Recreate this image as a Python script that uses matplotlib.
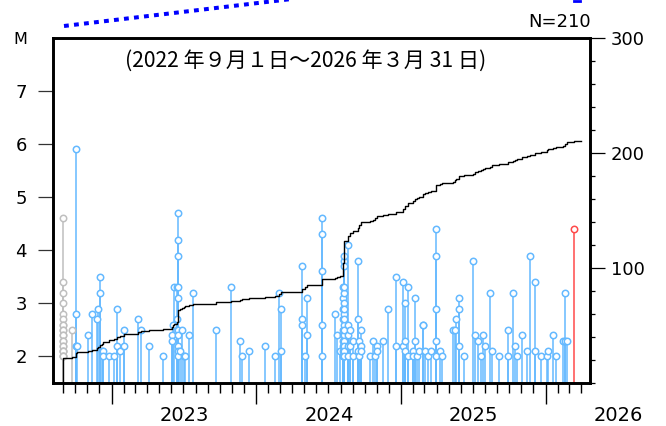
import datetime as dt
import numpy as np
import matplotlib
matplotlib.use("Agg")
import matplotlib.pyplot as plt
import matplotlib.dates as mdates
import matplotlib.ticker as mticker
import matplotlib.transforms as mtrans
from matplotlib.lines import Line2D

# hypocentre list: (date, magnitudes on that day)
ev_gray = [
	("2022-09-01", [4.6, 3.4, 3.2, 3.0, 2.8, 2.7, 2.6, 2.6, 2.5, 2.5, 2.4,
	                2.4, 2.3, 2.3, 2.2, 2.2, 2.1, 2.1, 2.1, 2.0, 2.0, 2.0]),
	("2022-09-24", [2.5]),
]
ev_2022 = [
	("2022-10-02", [5.9, 2.8, 2.2]), ("2022-10-06", [2.2]),
	("2022-11-03", [2.4]), ("2022-11-12", [2.8]), ("2022-11-26", [2.7]),
	("2022-11-28", [2.9]), ("2022-12-03", [3.5, 3.2]), ("2022-12-07", [2.1]),
	("2022-12-11", [2.1, 2.0]), ("2022-12-26", [2.0]),
]
ev_2023 = [
	("2023-01-06", [2.0]), ("2023-01-15", [2.9, 2.2]), ("2023-01-21", [2.1]),
	("2023-02-01", [2.5, 2.2]), ("2023-03-09", [2.7]), ("2023-03-15", [2.5]),
	("2023-04-06", [2.2]), ("2023-05-10", [2.0]),
	("2023-06-02", [2.4, 2.3]), ("2023-06-06", [2.6]), ("2023-06-08", [3.3]),
	("2023-06-14", [3.3, 2.7]),
	("2023-06-18", [4.7, 4.2, 3.9, 3.3, 3.1, 2.5, 2.4, 2.2, 2.1, 2.0]),
	("2023-06-22", [2.1]), ("2023-06-28", [2.5]), ("2023-07-02", [2.0]),
	("2023-07-06", [2.0]), ("2023-07-16", [2.4]), ("2023-07-25", [3.2]),
	("2023-09-21", [2.5]), ("2023-10-29", [3.3]), ("2023-11-21", [2.3]),
	("2023-11-26", [2.0]), ("2023-12-14", [2.1]),
]
ev_2024 = [
	("2024-01-24", [2.2]), ("2024-02-18", [2.0]), ("2024-02-28", [3.2]),
	("2024-03-03", [2.9, 2.1]), ("2024-04-26", [3.7, 2.7, 2.6]),
	("2024-05-04", [2.0]), ("2024-05-08", [3.1, 2.4]),
	("2024-06-15", [4.6, 4.3, 3.6, 2.6, 2.0]),
	("2024-07-18", [2.8]), ("2024-07-23", [2.4]), ("2024-07-31", [2.1]),
	("2024-08-07", [2.5, 2.3, 2.1]),
	("2024-08-08", [3.3, 3.1, 2.9, 2.7, 2.4, 2.2, 2.0, 2.0]),
	("2024-08-09", [3.8, 3.7, 3.2, 3.0, 2.8, 2.6, 2.4, 2.3, 2.1, 2.0, 2.0]),
	("2024-08-10", [3.9, 3.3, 2.9, 2.7, 2.5, 2.2, 2.1, 2.0]),
	("2024-08-21", [4.1, 2.6, 2.4, 2.2, 2.0]), ("2024-08-25", [2.5, 2.2]),
	("2024-09-02", [2.3, 2.0]), ("2024-09-13", [3.8, 2.7, 2.1]),
	("2024-09-17", [2.3, 2.0]), ("2024-09-21", [2.2, 2.1]), ("2024-09-23", [2.5]),
	("2024-10-15", [2.0]), ("2024-10-21", [2.3]), ("2024-10-28", [2.0]),
	("2024-10-31", [2.2, 2.1]), ("2024-11-17", [2.3]), ("2024-11-30", [2.9]),
	("2024-12-19", [3.5, 2.2]),
]
ev_2025 = [
	("2025-01-05", [3.4, 2.2]), ("2025-01-12", [3.0, 2.3, 2.1]),
	("2025-01-18", [3.3, 2.0]), ("2025-01-30", [2.1, 2.0]),
	("2025-02-05", [3.1, 2.3]), ("2025-02-10", [2.0]), ("2025-02-14", [2.1]),
	("2025-02-25", [2.6, 2.6]), ("2025-03-03", [2.1]), ("2025-03-11", [2.0]),
	("2025-03-18", [2.1]), ("2025-03-30", [4.4, 3.9, 2.9, 2.3, 2.0]),
	("2025-04-09", [2.1]), ("2025-04-15", [2.0]), ("2025-05-13", [2.5]),
	("2025-05-18", [2.5]), ("2025-05-20", [2.7]), ("2025-05-28", [3.1, 2.9, 2.2]),
	("2025-06-10", [2.0]), ("2025-07-01", [3.8]), ("2025-07-07", [2.4]),
	("2025-07-14", [2.3]), ("2025-07-21", [2.0]), ("2025-07-26", [2.4]),
	("2025-08-01", [2.2]), ("2025-08-13", [3.2]), ("2025-08-18", [2.1]),
	("2025-09-05", [2.0]), ("2025-09-27", [2.5, 2.0]), ("2025-10-11", [3.2]),
	("2025-10-15", [2.2]), ("2025-10-20", [2.0]), ("2025-11-03", [2.4]),
	("2025-11-14", [2.1]), ("2025-11-23", [3.9]), ("2025-12-04", [3.4, 2.1]),
	("2025-12-20", [2.0]),
]
ev_2026 = [
	("2026-01-04", [2.0]), ("2026-01-06", [2.1]), ("2026-01-19", [2.4]),
	("2026-01-28", [2.0]), ("2026-02-13", [2.3]), ("2026-02-20", [3.2, 2.3]),
	("2026-02-24", [2.3]),
]
ev_red = [("2026-03-14", [4.4])]

period_start = "2022-09-01"
period_end = "2026-03-31"
year_labels = [2023, 2024, 2025, 2026]

W, H = 666, 426
M_BASE = 1.5


def unpack(groups):
	d, m = [], []
	for day, mags in groups:
		for v in mags:
			d.append(dt.datetime.fromisoformat(day))
			m.append(v)
	return mdates.date2num(d), np.array(m)


def px(x, y):
	# pixel position (origin top-left) -> figure fraction
	return x / W, 1 - y / H


def stems(ax, groups, color):
	d, m = unpack(groups)
	ax.vlines(d, M_BASE, m, color=color, lw=1.1, zorder=2)
	ax.plot(d, m, 'o', ls='none', ms=4.6, mfc='white', mec=color, mew=1.1, zorder=3)


plt.rcParams['font.family'] = ['DejaVu Sans']

fig = plt.figure(figsize=(W / 100, H / 100), dpi=100)
l, b = px(53, 383)
r, t = px(590, 37.7)
ax = fig.add_axes([l, b, r - l, t - b])

blue = '#64b9ff'
stems(ax, ev_gray, '#bfbfbf')
for g in [ev_2022, ev_2023, ev_2024, ev_2025, ev_2026]:
	stems(ax, g, blue)
stems(ax, ev_red, '#ff4a4a')

ax.set_xlim(mdates.date2num(dt.datetime(2022, 8, 6)), mdates.date2num(dt.datetime(2026, 4, 23)))
ax.set_ylim(M_BASE, 8)
ax.set_yticks([2, 3, 4, 5, 6, 7])
ax.tick_params(axis='y', direction='out', length=10.8, width=0.9, color='#333333',
               labelsize=13, pad=8)
ax.xaxis.set_major_locator(mdates.YearLocator())
ax.xaxis.set_minor_locator(mdates.MonthLocator())
ax.xaxis.set_major_formatter(mticker.NullFormatter())
ax.tick_params(axis='x', which='major', direction='out', length=15, width=1)
ax.tick_params(axis='x', which='minor', direction='out', length=7.5, width=1)

# cumulative number of events
all_groups = ev_gray + ev_2022 + ev_2023 + ev_2024 + ev_2025 + ev_2026 + ev_red
d_all, m_all = unpack(all_groups)
order = np.argsort(d_all, kind='stable')
d_all = d_all[order]
n = len(d_all)
t0 = mdates.date2num(dt.datetime.fromisoformat(period_start))
t1 = mdates.date2num(dt.datetime.fromisoformat(period_end))
cx = np.concatenate([[t0], d_all, [t1]])
cy = np.concatenate([[0], np.arange(1, n + 1), [n]])

ax2 = ax.twinx()
ax2.step(cx, cy, where='post', color='black', lw=1.0, zorder=4)
ax2.set_ylim(0, 300)
ax2.yaxis.set_major_locator(mticker.FixedLocator([100, 200, 300]))
ax2.yaxis.set_minor_locator(mticker.MultipleLocator(20))
ax2.tick_params(axis='y', which='major', direction='out', length=10.8, width=0.9,
                labelsize=13, pad=4)
ax2.tick_params(axis='y', which='minor', direction='out', length=3.6, width=0.9)

for a in (ax, ax2):
	for s in a.spines.values():
		s.set_linewidth(1.9)

# year labels centred in each year
tr = mtrans.blended_transform_factory(ax.transData, fig.transFigure)
for yr in year_labels:
	ax.text(mdates.date2num(dt.datetime(yr, 7, 3)), px(0, 415.5)[1], str(yr),
	        transform=tr, ha='center', va='center', fontsize=14, clip_on=False)

fig.text(*px(20, 39), "M", ha='center', va='center', fontsize=11.5)
fig.text(*px(590.7, 27.3), f"N={n}", ha='right', va='baseline', fontsize=13)
fig.text(*px(305.5, 61), "(2022 年９月１日～2026 年３月 31 日)", ha='center', va='center',
         fontsize=15.2, family=['Noto Sans CJK JP', 'DejaVu Sans'])

# dotted region outline running off the top
x0, y0 = px(64, 26)
x1, y1 = px(300, -2)
fig.add_artist(Line2D([x0, x1], [y0, y1], transform=fig.transFigure, color='#0000ff',
                      lw=2.9, ls=(0, (1.2, 1.3)), dash_capstyle='butt'))
x2, y2 = px(574, 0.8)
x3, y3 = px(580, 0.8)
fig.add_artist(Line2D([x2, x3], [y2, y3], transform=fig.transFigure, color='#0000ff', lw=2.0))

fig.savefig('out.png', dpi=100)
